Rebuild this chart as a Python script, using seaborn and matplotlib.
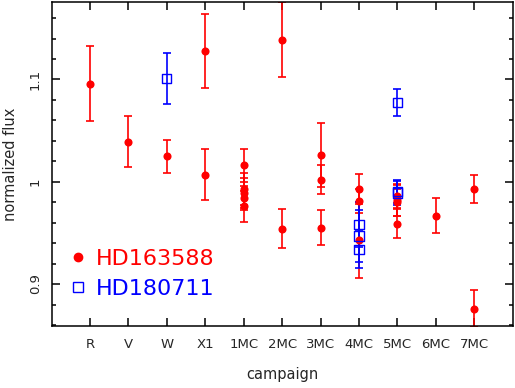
import numpy as np
import pandas as pd
import matplotlib
matplotlib.use("Agg")
import matplotlib.pyplot as plt
import seaborn as sns
from matplotlib.ticker import MultipleLocator, FuncFormatter
from matplotlib.lines import Line2D

# campaign categories along the x axis
campaigns = ["R", "V", "W", "X1", "1MC", "2MC", "3MC", "4MC", "5MC", "6MC", "7MC"]

# HD163588 (red, filled circles)
red_campaign = ["R", "V", "W", "X1", "X1",
                "1MC", "1MC", "1MC", "1MC", "1MC",
                "2MC", "2MC", "3MC", "3MC", "3MC",
                "4MC", "4MC", "4MC",
                "5MC", "5MC", "5MC", "5MC",
                "6MC", "7MC", "7MC"]
red_flux = [1.096, 1.039, 1.025, 1.128, 1.007,
            1.016, 0.993, 0.989, 0.984, 0.976,
            1.139, 0.954, 1.026, 1.002, 0.955,
            0.993, 0.981, 0.943,
            0.986, 0.982, 0.980, 0.959,
            0.967, 0.993, 0.876]
red_err = [0.037, 0.025, 0.016, 0.036, 0.025,
           0.016, 0.016, 0.015, 0.012, 0.015,
           0.037, 0.019, 0.031, 0.014, 0.017,
           0.015, 0.012, 0.037,
           0.012, 0.015, 0.013, 0.014,
           0.017, 0.014, 0.018]

# HD180711 (blue, open squares)
blue_campaign = ["W", "4MC", "4MC", "4MC", "5MC", "5MC", "5MC"]
blue_flux = [1.101, 0.958, 0.947, 0.934, 1.0775, 0.9905, 0.989]
blue_err = [0.025, 0.022, 0.025, 0.018, 0.013, 0.011, 0.012]

stars = ["HD163588", "HD180711"]
colors = {"HD163588": "#ff0000", "HD180711": "#0000ff"}

df = pd.concat([
    pd.DataFrame({"campaign": red_campaign, "flux": red_flux, "err": red_err, "star": stars[0]}),
    pd.DataFrame({"campaign": blue_campaign, "flux": blue_flux, "err": blue_err, "star": stars[1]}),
], ignore_index=True)
df["x"] = df["campaign"].map({c: i + 1 for i, c in enumerate(campaigns)})

sns.set_style("ticks")
plt.rcParams["font.family"] = ["DejaVu Sans"]

fig = plt.figure(figsize=(5.15, 3.88), dpi=100)
ax = fig.add_axes([0.1002, 0.1598, 0.8953, 0.8358])

for star in stars:
    sub = df[df["star"] == star]
    ax.errorbar(sub["x"], sub["flux"], yerr=sub["err"], fmt="none",
                ecolor=colors[star], elinewidth=1.2, capsize=2.6, capthick=1.2, zorder=2)

red = df[df["star"] == stars[0]]
blue = df[df["star"] == stars[1]]
sns.scatterplot(data=red, x="x", y="flux", ax=ax, color=colors[stars[0]], marker="o",
                s=34, edgecolor=colors[stars[0]], linewidth=0, legend=False, zorder=3)
sns.scatterplot(data=blue, x="x", y="flux", ax=ax, marker="s", s=44,
                facecolor="none", edgecolor=colors[stars[1]], linewidth=1.0, legend=False, zorder=3)

ax.set_xlim(0, 12)
ax.set_ylim(0.859, 1.176)
ax.set_xticks(range(1, len(campaigns) + 1))
ax.set_xticklabels(campaigns)
ax.yaxis.set_major_locator(MultipleLocator(0.1))
ax.yaxis.set_minor_locator(MultipleLocator(0.02))
ax.yaxis.set_major_formatter(FuncFormatter(lambda v, p: f"{v:g}"))

ax.tick_params(axis="both", which="both", direction="in", top=True, right=True,
               width=1.1, color="black", labelsize=9.5)
ax.tick_params(axis="x", which="major", length=6, pad=9)
ax.tick_params(axis="y", which="major", length=6, pad=7, labelrotation=90)
ax.tick_params(axis="y", which="minor", length=3)
for lab in ax.get_yticklabels():
    lab.set_va("center")
for sp in ax.spines.values():
    sp.set_linewidth(1.1)
    sp.set_color("black")

ax.set_xlabel("campaign", fontsize=10.5)
ax.set_ylabel("normalized flux", fontsize=10.5)
ax.xaxis.set_label_coords(0.5, -0.125)
ax.yaxis.set_label_coords(-0.072, 0.5)

handles = [
    Line2D([], [], linestyle="none", marker="o", markersize=6, color=colors[stars[0]]),
    Line2D([], [], linestyle="none", marker="s", markersize=6.5, markerfacecolor="none",
           markeredgecolor=colors[stars[1]], markeredgewidth=1.0),
]
leg = ax.legend(handles, stars, loc="lower left", bbox_to_anchor=(0.01, 0.035),
                frameon=False, fontsize=16, handlelength=0.6, handletextpad=0.5,
                labelspacing=0.45, borderaxespad=0.3)
for txt, star in zip(leg.get_texts(), stars):
    txt.set_color(colors[star])

fig.savefig("out.png", dpi=100)
